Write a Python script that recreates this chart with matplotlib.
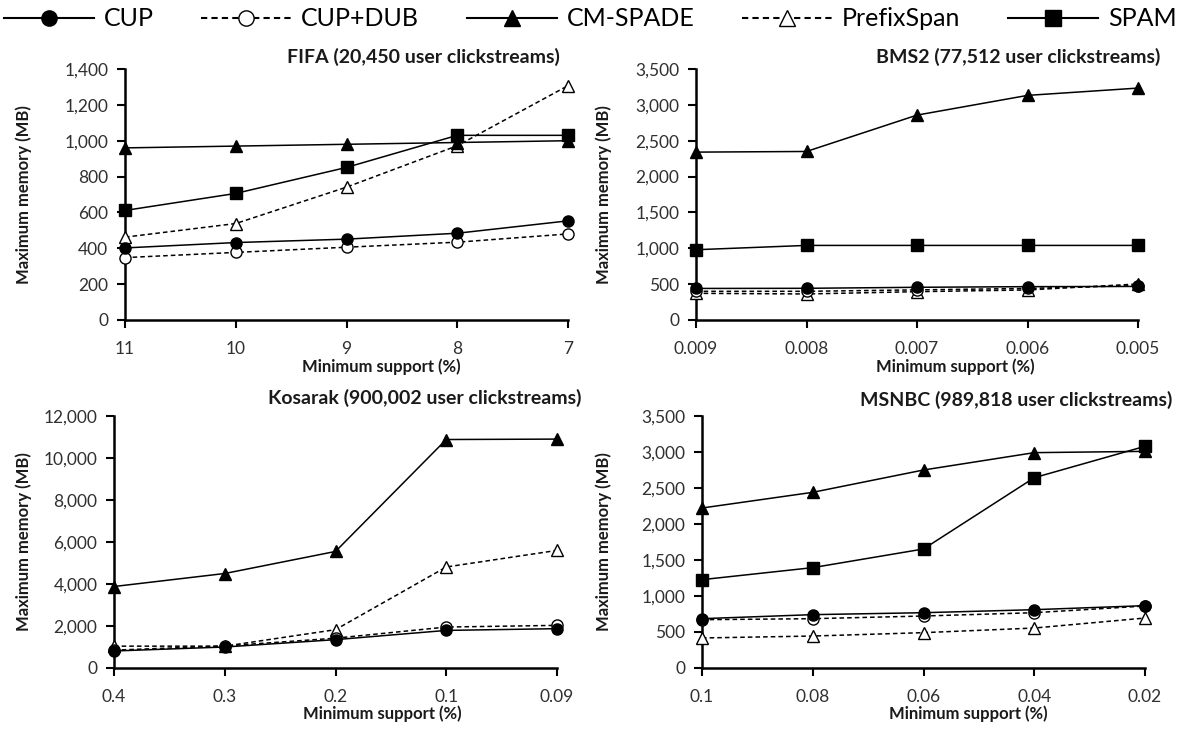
import matplotlib
matplotlib.use("Agg")
import matplotlib.pyplot as plt
from matplotlib.lines import Line2D

plt.rcParams['font.family'] = ['Lato', 'DejaVu Sans']

# ---- data ----
series_names = ["CUP", "CUP+DUB", "CM-SPADE", "PrefixSpan", "SPAM"]

fifa_x = ["11", "10", "9", "8", "7"]
fifa_cup = [402, 432, 451, 484, 553]
fifa_cupdub = [348, 377, 406, 434, 480]
fifa_cmspade = [960, 970, 980, 990, 1000]
fifa_prefixspan = [462, 538, 741, 972, 1307]
fifa_spam = [611, 706, 851, 1030, 1030]

bms2_x = ["0.009", "0.008", "0.007", "0.006", "0.005"]
bms2_cup = [440, 442, 456, 465, 468]
bms2_cupdub = [400, 400, 420, 440, 480]
bms2_cmspade = [2341, 2350, 2857, 3132, 3234]
bms2_prefixspan = [372, 363, 395, 419, 502]
bms2_spam = [980, 1040, 1040, 1040, 1040]

kosarak_x = ["0.4", "0.3", "0.2", "0.1", "0.09"]
kosarak_cup = [810, 1000, 1350, 1790, 1873]
kosarak_cupdub = [850, 1050, 1420, 1950, 2030]
kosarak_cmspade = [3880, 4500, 5550, 10880, 10900]
kosarak_prefixspan = [1040, 1040, 1825, 4810, 5600]
kosarak_spam = [None, None, None, None, None]

msnbc_x = ["0.1", "0.08", "0.06", "0.04", "0.02"]
msnbc_cup = [685, 741, 768, 810, 866]
msnbc_cupdub = [671, 685, 722, 768, 861]
msnbc_cmspade = [2222, 2440, 2750, 2991, 3009]
msnbc_prefixspan = [417, 444, 491, 555, 694]
msnbc_spam = [1227, 1394, 1653, 2643, 3079]

panels = [
    dict(title="FIFA (20,450 user clickstreams)", x=fifa_x,
         data=[fifa_cup, fifa_cupdub, fifa_cmspade, fifa_prefixspan, fifa_spam],
         ymax=1400, ystep=200),
    dict(title="BMS2 (77,512 user clickstreams)", x=bms2_x,
         data=[bms2_cup, bms2_cupdub, bms2_cmspade, bms2_prefixspan, bms2_spam],
         ymax=3500, ystep=500),
    dict(title="Kosarak (900,002 user clickstreams)", x=kosarak_x,
         data=[kosarak_cup, kosarak_cupdub, kosarak_cmspade, kosarak_prefixspan, kosarak_spam],
         ymax=12000, ystep=2000),
    dict(title="MSNBC (989,818 user clickstreams)", x=msnbc_x,
         data=[msnbc_cup, msnbc_cupdub, msnbc_cmspade, msnbc_prefixspan, msnbc_spam],
         ymax=3500, ystep=500),
]

styles = [
    dict(marker="o", linestyle="-", mfc="black", z=6),
    dict(marker="o", linestyle=(0, (3, 2)), mfc="white", z=4),
    dict(marker="^", linestyle="-", mfc="black", z=5),
    dict(marker="^", linestyle=(0, (3, 2)), mfc="white", z=3),
    dict(marker="s", linestyle="-", mfc="black", z=5),
]

W, H = 1180, 729
fig = plt.figure(figsize=(W / 100, H / 100), dpi=100)

# axes boxes in pixels: left, right, bottom(0), top(ymax)
boxes = [(125, 568, 320, 69), (696, 1138, 320, 69),
         (114, 557, 668, 416), (702, 1145, 668, 416)]
title_pos = [(560, 57), (1160, 57), (582, 398), (1172, 400)]
xlabel_pos = [(381, 367), (955, 367), (382, 714), (968, 714)]
ylabel_x = [24, 604, 24, 604]


def fx(px):
    return px / W


def fy(py):
    return 1 - py / H


for i, p in enumerate(panels):
    l, r, b, t = boxes[i]
    ax = fig.add_axes([fx(l), fy(b), (r - l) / W, (b - t) / H])
    xs = list(range(len(p["x"])))
    for vals, st in zip(p["data"], styles):
        if all(v is None for v in vals):
            continue
        ax.plot(xs, vals, color="black", lw=1.1, linestyle=st["linestyle"],
                marker=st["marker"], markersize=8, markerfacecolor=st["mfc"],
                markeredgecolor="black", markeredgewidth=1.0, clip_on=False,
                zorder=st["z"])
    ax.set_xlim(0, len(xs) - 1)
    ax.set_ylim(0, p["ymax"])
    ax.set_xticks(xs)
    ax.set_xticklabels(p["x"])
    yt = list(range(0, p["ymax"] + 1, p["ystep"]))
    ax.set_yticks(yt)
    ax.set_yticklabels([f"{v:,}" for v in yt])
    for s in ["top", "right"]:
        ax.spines[s].set_visible(False)
    for s in ["left", "bottom"]:
        ax.spines[s].set_linewidth(1.8)
    ax.tick_params(axis="both", direction="out", length=6, width=1.5,
                   labelsize=12.5, colors="black", labelcolor="#303030")
    ax.tick_params(axis="x", pad=9)
    ax.tick_params(axis="y", pad=6)
    tx, ty = title_pos[i]
    fig.text(fx(tx), fy(ty), p["title"], ha="right", va="center",
             fontsize=14, fontweight="bold", color="#1a1a1a")
    lx, ly = xlabel_pos[i]
    fig.text(fx(lx), fy(ly), "Minimum support (%)", ha="center", va="center",
             fontsize=12, fontweight="bold", color="#1a1a1a")
    fig.text(fx(ylabel_x[i]), (fy(b) + fy(t)) / 2, "Maximum memory (MB)",
             ha="center", va="center", rotation=90, fontsize=12,
             fontweight="bold", color="#1a1a1a")

handles = [Line2D([], [], color="black", lw=1.5, linestyle=st["linestyle"],
                  marker=st["marker"], markersize=11,
                  markerfacecolor=st["mfc"], markeredgecolor="black")
           for st in styles]
fig.legend(handles, series_names, loc="center", bbox_to_anchor=(0.5, fy(19)),
           ncol=5, frameon=False, handlelength=3.6,
           columnspacing=1.9, handletextpad=0.4, borderpad=0.2,
           prop={'family': ['Liberation Sans Narrow', 'Lato'], 'size': 18})

fig.savefig("out.png", dpi=100)
